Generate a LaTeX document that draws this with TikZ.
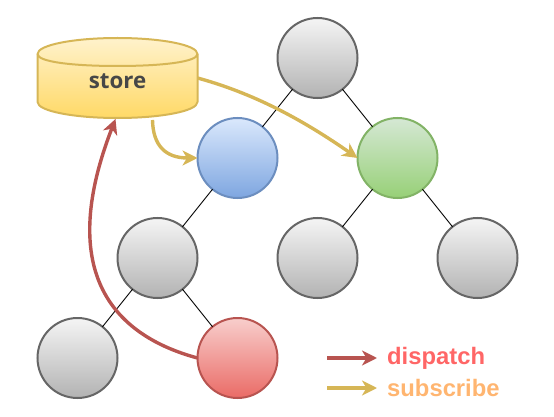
\documentclass[tikz,border=0pt]{standalone}
\usepackage{fontspec}
\setmainfont{Liberation Sans}
\newfontfamily\storefont{Open Sans}
\usetikzlibrary{arrows.meta,calc}
\definecolor{yS}{HTML}{D6B656}
\definecolor{rS}{HTML}{B85450}
\tikzset{
  x=1pt,y=-1pt,
  treenode/.style={circle,draw,line width=2pt,minimum size=80pt,inner sep=0pt,outer sep=0pt},
  gray node/.style={treenode,draw=black!60,top color=white!96!black,bottom color=black!30},
  blue node/.style={treenode,draw={rgb,255:red,108;green,142;blue,191},top color={rgb,255:red,218;green,232;blue,252},bottom color={rgb,255:red,126;green,166;blue,224}},
  green node/.style={treenode,draw={rgb,255:red,130;green,179;blue,102},top color={rgb,255:red,213;green,232;blue,212},bottom color={rgb,255:red,151;green,208;blue,119}},
  red node/.style={treenode,draw=rS,top color={rgb,255:red,248;green,206;blue,204},bottom color={rgb,255:red,234;green,107;blue,102}},
  treeedge/.style={draw=black,line width=0.9pt},
  flow/.style={line width=3.4pt,-{Stealth[length=15pt,width=15pt,inset=4.5pt]}},
  legendtext/.style={font=\bfseries\fontsize{23.8}{26}\selectfont,anchor=west,inner sep=0pt},
}
\begin{document}
\begin{tikzpicture}
\useasboundingbox (0,0) rectangle (554,417);
% cylinder
\path[top color={rgb,255:red,255;green,242;blue,204},bottom color={rgb,255:red,255;green,217;blue,102},draw=yS,line width=2pt]
  (37.5,54) .. controls (37.5,45) and (73.5,38) .. (117.5,38) .. controls (161.5,38) and (197.5,45) .. (197.5,54)
  -- (197.5,102) .. controls (197.5,111) and (161.5,118) .. (117.5,118) .. controls (73.5,118) and (37.5,111) .. (37.5,102) -- cycle;
\draw[yS,line width=2pt] (37.5,54) .. controls (37.5,62) and (73.5,66) .. (117.5,66) .. controls (161.5,66) and (197.5,62) .. (197.5,54);
\node[minimum width=160pt,minimum height=80pt,inner sep=0pt,outer sep=0pt] (store) at (117.5,78) {};
\node[inner sep=0pt,text=black!72,font=\storefont\bfseries\fontsize{22.3}{26}\selectfont] (storelabel) at (117.5,81) {store};
% tree nodes
\node[gray node] (root) at (317.5,58) {};
\node[blue node] (blue) at (237.5,158) {};
\node[green node] (green) at (397.5,158) {};
\node[gray node] (mid) at (157.5,258) {};
\node[gray node] (gl) at (317.5,258) {};
\node[gray node] (gr) at (477.5,258) {};
\node[gray node] (ll) at (77.5,358) {};
\node[red node] (red) at (237.5,358) {};
% tree edges
\draw[treeedge] (root) -- (blue);
\draw[treeedge] (root) -- (green);
\draw[treeedge] (blue) -- (mid);
\draw[treeedge] (green) -- (gl);
\draw[treeedge] (green) -- (gr);
\draw[treeedge] (mid) -- (ll);
\draw[treeedge] (mid) -- (red);
% flow
\draw[flow,rS] (red.west) .. controls (116,336) and (55,275) .. ($(store.south)+(-2,1)$);
\draw[flow,yS] (store.east) .. controls (260,95) and (310,125) .. (green.west);
\draw[flow,yS] ($(store.south)+(35,2)$) .. controls (153,145) and (165,158) .. (blue.west);
% legend
\coordinate (a1) at (327,358);
\coordinate (a2) at (377,358);
\coordinate (b1) at (327,388);
\coordinate (b2) at (377,388);
\draw[flow,rS] (a1) -- (a2);
\draw[flow,yS] (b1) -- (b2);
\node[legendtext,text={rgb,255:red,255;green,102;blue,102}] (t1) at (387,358) {dispatch};
\node[legendtext,text={rgb,255:red,255;green,181;blue,112}] (t2) at (387,388) {subscribe};
\end{tikzpicture}
\end{document}
